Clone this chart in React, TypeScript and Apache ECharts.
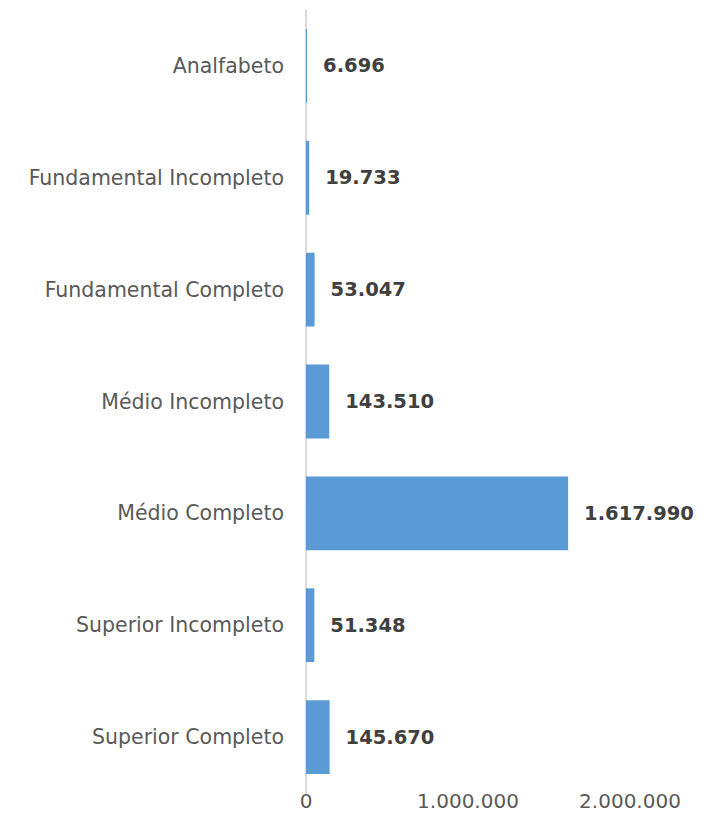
import React, { useEffect, useRef } from "react";
import * as echarts from "echarts";

const categories = [
  "Analfabeto",
  "Fundamental Incompleto",
  "Fundamental Completo",
  "Médio Incompleto",
  "Médio Completo",
  "Superior Incompleto",
  "Superior Completo",
];
const values = [6696, 19733, 53047, 143510, 1617990, 51348, 145670];
const axisTicks = [0, 1000000, 2000000];

const fmt = (v: number) => String(Math.round(v)).replace(/\B(?=(\d{3})+(?!\d))/g, ".");

export default function App() {
  const ref = useRef<HTMLDivElement>(null);
  useEffect(() => {
    if (!ref.current) return;
    const chart = echarts.init(ref.current, undefined, { renderer: "svg" });
    const font = "'DejaVu Sans', sans-serif";
    chart.setOption({
      animation: false,
      grid: { left: 306, right: 98, top: 10, bottom: 38, containLabel: false },
      xAxis: {
        type: "value",
        min: axisTicks[0],
        max: axisTicks[axisTicks.length - 1],
        interval: axisTicks[1] - axisTicks[0],
        axisLine: { show: false },
        axisTick: { show: false },
        splitLine: { show: false },
        axisLabel: {
          formatter: (v: number) => fmt(v),
          color: "#595959",
          fontSize: 20,
          fontFamily: font,
          margin: -2,
        },
      },
      yAxis: {
        type: "category",
        data: categories,
        inverse: true,
        axisLine: { show: true, lineStyle: { color: "#d9d9d9", width: 2 } },
        axisTick: { show: false },
        axisLabel: {
          color: "#595959",
          fontSize: 20.5,
          fontFamily: font,
          margin: 22,
        },
      },
      series: [
        {
          type: "bar",
          data: values,
          barCategoryGap: "34%",
          itemStyle: { color: "#5B9BD5" },
          label: {
            show: true,
            position: "right",
            distance: 16,
            formatter: (p: any) => fmt(p.value),
            color: "#404040",
            fontSize: 19.5,
            fontWeight: "bold",
            fontFamily: font,
          },
        },
      ],
    });
    return () => chart.dispose();
  }, []);
  return (
    <div
      ref={ref}
      style={{ position: "fixed", left: 0, top: 0, width: 728, height: 831, background: "#fff" }}
    />
  );
}
